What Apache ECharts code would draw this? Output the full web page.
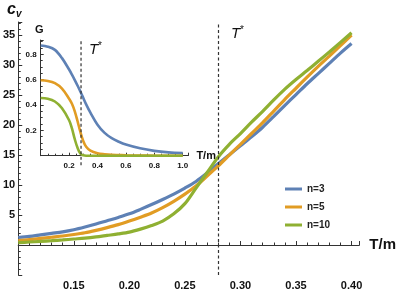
<!DOCTYPE html>
<html>
<head>
<meta charset="utf-8">
<script src="https://cdn.jsdelivr.net/npm/echarts@6/dist/echarts.min.js"></script>
<style>
html,body{margin:0;padding:0;background:#fff;}
#c{width:399px;height:291px;}
</style>
</head>
<body>
<div id="c"></div>
<script>
// ---- data ----
const seriesNames = ['n=3', 'n=5', 'n=10'];
const mainT  = [0.10, 0.11, 0.12, 0.13, 0.14, 0.15, 0.16, 0.17, 0.18, 0.19, 0.20, 0.21, 0.22, 0.23, 0.24, 0.25,
                0.26, 0.27, 0.28, 0.29, 0.30, 0.31, 0.32, 0.33, 0.34, 0.35, 0.36, 0.37, 0.38, 0.39, 0.40];
const cvN3   = [1.25, 1.45, 1.7, 1.95, 2.2, 2.55, 3.0, 3.5, 4.05, 4.6, 5.2, 5.95, 6.75, 7.6, 8.5, 9.5,
                10.6, 12.0, 13.55, 15.05, 16.55, 18.05, 19.65, 21.45, 23.3, 25.1, 26.9, 28.6, 30.3, 32.0, 33.6];
const cvN5   = [0.75, 0.9, 1.1, 1.3, 1.5, 1.75, 2.05, 2.45, 2.9, 3.4, 4.0, 4.65, 5.35, 6.25, 7.3, 8.5,
                9.85, 11.5, 13.2, 15.0, 16.8, 18.6, 20.4, 22.35, 24.3, 26.15, 28.0, 29.8, 31.5, 33.25, 35.0];
const cvN10  = [0.4, 0.5, 0.6, 0.72, 0.85, 1.0, 1.15, 1.35, 1.6, 1.85, 2.15, 2.65, 3.25, 4.0, 5.2, 6.9,
                9.5, 12.1, 14.7, 16.8, 18.6, 20.5, 22.3, 24.2, 26.0, 27.6, 29.1, 30.65, 32.2, 33.8, 35.4];

const insetT = [0, 0.05, 0.1, 0.15, 0.2, 0.22, 0.24, 0.26, 0.28, 0.3, 0.32, 0.35, 0.4, 0.45, 0.5, 0.55, 0.6, 0.7, 0.8, 0.9, 1.0];
const gN3    = [0.87, 0.86, 0.835, 0.77, 0.68, 0.64, 0.597, 0.552, 0.505, 0.455, 0.405, 0.34, 0.245, 0.18, 0.138, 0.11, 0.088, 0.058, 0.038, 0.026, 0.02];
const gN5    = [0.595, 0.59, 0.573, 0.53, 0.45, 0.41, 0.35, 0.27, 0.185, 0.115, 0.07, 0.04, 0.02, 0.012, 0.007, 0.005, 0.003, 0.001, 0, 0, 0];
const gN10   = [0.455, 0.45, 0.428, 0.375, 0.28, 0.215, 0.13, 0.06, 0.015, 0.003, 0, 0, 0, 0, 0, 0, 0, 0, 0, 0, 0];

const tStar = 0.284;
const insetDashY = [-0.075, 0.913];

const mainXLabels  = [0.15, 0.20, 0.25, 0.30, 0.35, 0.40];
const mainYLabels  = [5, 10, 15, 20, 25, 30, 35];
const insetXLabels = [0.2, 0.4, 0.6, 0.8, 1.0];
const insetYLabels = [0.2, 0.4, 0.6, 0.8];

// ---- styling ----
const colors = ['#5E81B5', '#E19C24', '#8FB032'];
const FONT = '"Liberation Sans", Arial, sans-serif';
const AX = '#333';

function pick(list, digits) {
  return function (v) {
    return list.some(l => Math.abs(l - v) < 1e-9) ? (digits === 0 ? String(Math.round(v)) : v.toFixed(digits)) : '';
  };
}
const zip = (xs, ys) => xs.map((x, i) => [x, ys[i]]);

const chart = echarts.init(document.getElementById('c'), null, {renderer: 'canvas'});

const axisCommon = {
  axisLine: {lineStyle: {color: AX, width: 1}},
  axisTick: {inside: true, length: 4, lineStyle: {color: AX, width: 1}},
  minorTick: {show: true, length: 2.5, lineStyle: {color: AX, width: 1}},
  splitLine: {show: false}
};

function starLabel(x, y) {
  return [
    {type: 'text', left: x, top: y, style: {text: 'T', fontFamily: FONT, fontStyle: 'italic', fontSize: 15, fill: '#111'}},
    {type: 'text', left: x + 9, top: y - 1, style: {text: '*', fontFamily: FONT, fontSize: 10, fill: '#111'}}
  ];
}

const option = {
  animation: false,
  backgroundColor: '#fff',
  color: colors,
  grid: [
    {left: 15, right: 37, top: 22, bottom: -15.4},
    {left: 40.7, right: 210.6, top: 40, bottom: 135.3}
  ],
  xAxis: [
    Object.assign({}, axisCommon, {
      type: 'value', gridIndex: 0, min: 0.1, max: 0.407, interval: 0.05,
      minorTick: Object.assign({}, axisCommon.minorTick, {splitNumber: 5}),
      axisLine: {onZero: true, lineStyle: {color: AX, width: 1}},
      axisLabel: {formatter: pick(mainXLabels, 2), color: '#111', fontFamily: FONT, fontWeight: 'bold', fontSize: 11, margin: 5, showMaxLabel: true},
      name: 'T/m', nameLocation: 'end', nameGap: 10,
      nameTextStyle: {fontFamily: FONT, fontWeight: 'bold', fontSize: 15, color: '#111', verticalAlign: 'middle'}
    }),
    Object.assign({}, axisCommon, {
      type: 'value', gridIndex: 1, min: 0, max: 1.04, interval: 0.2,
      minorTick: Object.assign({}, axisCommon.minorTick, {splitNumber: 4, length: 2}),
      axisTick: {inside: true, length: 3, lineStyle: {color: AX, width: 1}},
      axisLine: {onZero: true, lineStyle: {color: AX, width: 1}},
      axisLabel: {formatter: pick(insetXLabels, 1), color: '#111', fontFamily: FONT, fontWeight: 'bold', fontSize: 8, margin: 6},
      name: 'T/m', nameLocation: 'end', nameGap: 8,
      nameTextStyle: {fontFamily: FONT, fontWeight: 'bold', fontSize: 11, color: '#111', verticalAlign: 'middle'}
    })
  ],
  yAxis: [
    Object.assign({}, axisCommon, {
      type: 'value', gridIndex: 0, min: -5, max: 37.2, interval: 5,
      minorTick: Object.assign({}, axisCommon.minorTick, {splitNumber: 5}),
      axisLabel: {formatter: pick(mainYLabels, 0), color: '#111', fontFamily: FONT, fontWeight: 'bold', fontSize: 11, margin: 3}
    }),
    Object.assign({}, axisCommon, {
      type: 'value', gridIndex: 1, min: 0, max: 0.913, interval: 0.2,
      minorTick: Object.assign({}, axisCommon.minorTick, {splitNumber: 4, length: 2}),
      axisTick: {inside: true, length: 3, lineStyle: {color: AX, width: 1}},
      axisLabel: {formatter: pick(insetYLabels, 1), color: '#111', fontFamily: FONT, fontWeight: 'bold', fontSize: 8, margin: 4}
    })
  ],
  legend: {
    data: seriesNames,
    orient: 'vertical', left: 285, top: 183, padding: 0,
    icon: 'rect', itemWidth: 17, itemHeight: 3, itemGap: 6,
    selectedMode: false,
    textStyle: {fontFamily: FONT, fontWeight: 'bold', fontSize: 10, color: '#222', lineHeight: 12}
  },
  graphic: [
    {type: 'text', left: 7, top: 2, style: {
      text: '{c|c}{v|v}',
      rich: {
        c: {fontFamily: FONT, fontStyle: 'italic', fontWeight: 'bold', fontSize: 16, fill: '#111'},
        v: {fontFamily: FONT, fontStyle: 'italic', fontWeight: 'bold', fontSize: 10, fill: '#111', padding: [8, 0, 0, 0]}
      }
    }},
    ...starLabel(231, 26),
    ...starLabel(89, 42),
    {type: 'text', left: 35, top: 24, style: {
      text: 'G', fontFamily: FONT, fontWeight: 'bold', fontSize: 11, fill: '#111'
    }}
  ],
  series: [
    {name: seriesNames[0], type: 'line', xAxisIndex: 0, yAxisIndex: 0, data: zip(mainT, cvN3),
     showSymbol: false, smooth: 0.3, lineStyle: {width: 3.2, color: colors[0]}, z: 3,
     markLine: {silent: true, symbol: ['none', 'none'], label: {show: false},
       lineStyle: {type: [3, 2.5], color: '#333', width: 1.2}, data: [{xAxis: tStar}], animation: false}},
    {name: seriesNames[1], type: 'line', xAxisIndex: 0, yAxisIndex: 0, data: zip(mainT, cvN5),
     showSymbol: false, smooth: 0.3, lineStyle: {width: 3.2, color: colors[1]}, z: 3},
    {name: seriesNames[2], type: 'line', xAxisIndex: 0, yAxisIndex: 0, data: zip(mainT, cvN10),
     showSymbol: false, smooth: 0.3, lineStyle: {width: 3.2, color: colors[2]}, z: 3},
    {name: 'G3', type: 'line', xAxisIndex: 1, yAxisIndex: 1, data: zip(insetT, gN3),
     showSymbol: false, smooth: 0.35, lineStyle: {width: 2.6, color: colors[0]}, itemStyle: {color: colors[0]}},
    {name: 'G5', type: 'line', xAxisIndex: 1, yAxisIndex: 1, data: zip(insetT, gN5),
     showSymbol: false, smooth: 0.35, lineStyle: {width: 2.6, color: colors[1]}, itemStyle: {color: colors[1]}},
    {name: 'G10', type: 'line', xAxisIndex: 1, yAxisIndex: 1, data: zip(insetT, gN10),
     showSymbol: false, smooth: 0.35, lineStyle: {width: 2.6, color: colors[2]}, itemStyle: {color: colors[2]}},
    {name: 'Tstar inset', type: 'line', xAxisIndex: 1, yAxisIndex: 1, clip: false, silent: true,
     data: insetDashY.map(y => [tStar, y]), showSymbol: false,
     lineStyle: {type: [3, 2.5], color: '#333', width: 1.2}}
  ]
};
chart.setOption(option);
</script>
</body>
</html>
